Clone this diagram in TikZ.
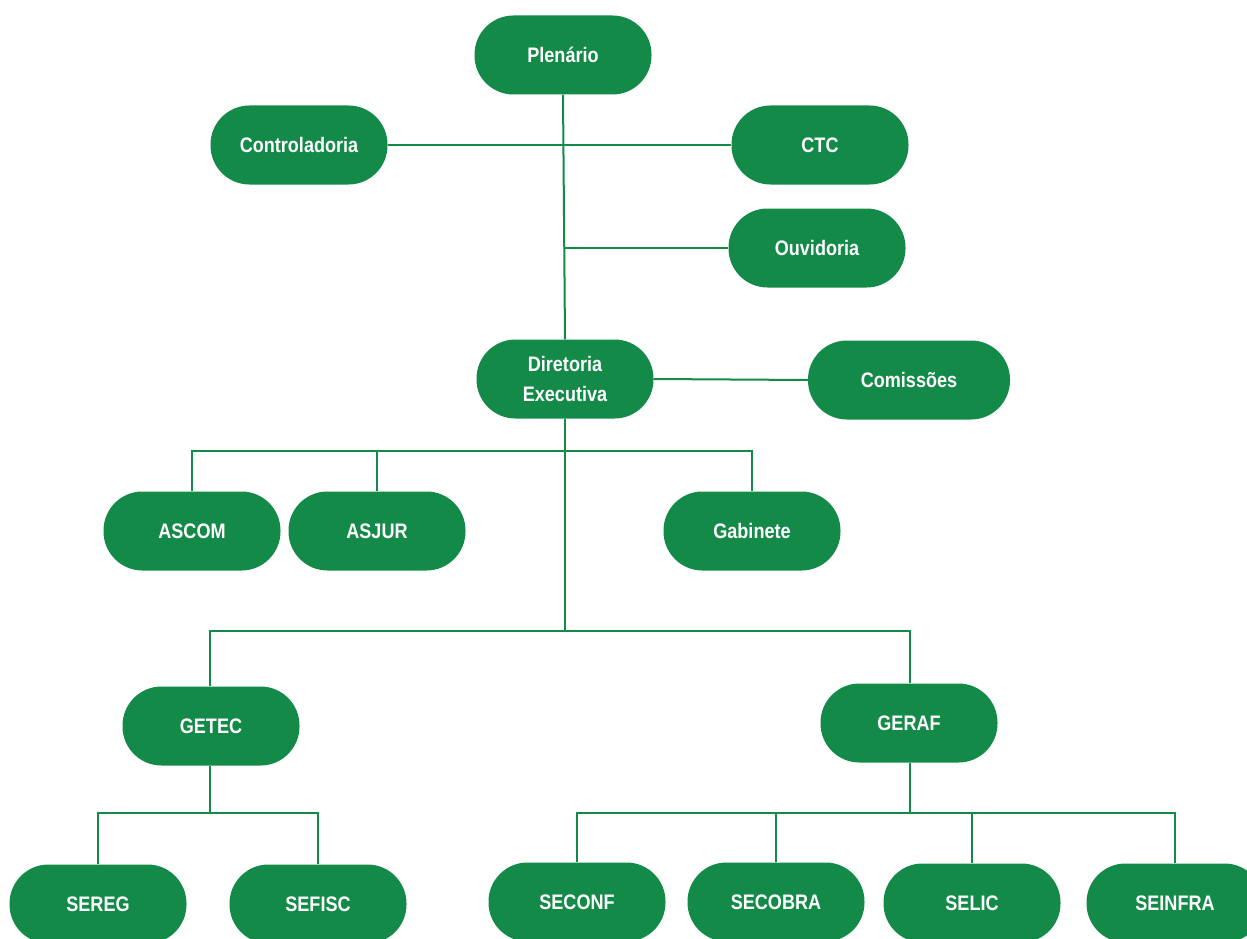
\documentclass[tikz,border=0pt]{standalone}
\usepackage{fontspec}
\setmainfont{Liberation Sans}[FakeStretch=0.86]
\usetikzlibrary{positioning}
\definecolor{orggreen}{HTML}{138A48}

\tikzset{
  unit/.style={fill=orggreen, text=white, rounded corners=39pt,
    minimum width=177pt, minimum height=79pt, inner sep=2pt, align=center,
    font=\bfseries\fontsize{21}{30}\selectfont},
  link/.style={draw=orggreen, line width=2pt}
}

\begin{document}
\begin{tikzpicture}[x=1pt,y=-1pt]
  \useasboundingbox (0,0) rectangle (1247,939);
  \clip (0,0) rectangle (1247,939);

  % top level
  \node[unit] (plenario) at (563,55) {Plenário};
  \node[unit] (controladoria) at (299,145) {Controladoria};
  \node[unit] (ctc) at (820,145) {CTC};
  \node[unit] (ouvidoria) at (817,248) {Ouvidoria};
  \node[unit] (diretoria) at (565,379) {Diretoria\\Executiva};
  \node[unit, minimum width=202pt] (comissoes) at (909,380) {Comissões};

  % assessorias
  \node[unit] (ascom) at (192,531) {ASCOM};
  \node[unit] (asjur) at (377,531) {ASJUR};
  \node[unit] (gabinete) at (752,531) {Gabinete};

  % gerencias
  \node[unit] (getec) at (211,726) {GETEC};
  \node[unit] (geraf) at (909,723) {GERAF};

  % secoes
  \node[unit] (sereg) at (98,904) {SEREG};
  \node[unit] (sefisc) at (318,904) {SEFISC};
  \node[unit] (seconf) at (577,902) {SECONF};
  \node[unit] (secobra) at (776,902) {SECOBRA};
  \node[unit] (selic) at (972,903) {SELIC};
  \node[unit] (seinfra) at (1175,903) {SEINFRA};

  % junction points
  \coordinate (jouv) at (565,248);
  \coordinate (jass) at (565,451);
  \coordinate (jger) at (565,631);
  \coordinate (jgetec) at (210,813);
  \coordinate (jgeraf) at (910,813);

  %draw connectors
  \draw[link] (plenario.south) -- (diretoria.north);
  \draw[link] (controladoria.east) -- (ctc.west);
  \draw[link] (jouv) -- (ouvidoria.west);
  \draw[link] (diretoria.east) -- (comissoes.west);
  \draw[link] (diretoria.south) -- (jger);

  \draw[link] (ascom.north) |- (jass) -| (gabinete.north);
  \draw[link] (asjur.north) -- (asjur.north |- jass);

  \draw[link] (getec.north -| jgetec) |- (jger) -| (geraf.north -| jgeraf);

  \draw[link] (getec.south -| jgetec) -- (jgetec);
  \draw[link] (sereg.north) |- (jgetec) -| (sefisc.north);

  \draw[link] (geraf.south -| jgeraf) -- (jgeraf);
  \draw[link] (seconf.north) |- (jgeraf) -| (seinfra.north);
  \draw[link] (secobra.north) -- (secobra.north |- jgeraf);
  \draw[link] (selic.north) -- (selic.north |- jgeraf);
\end{tikzpicture}
\end{document}
